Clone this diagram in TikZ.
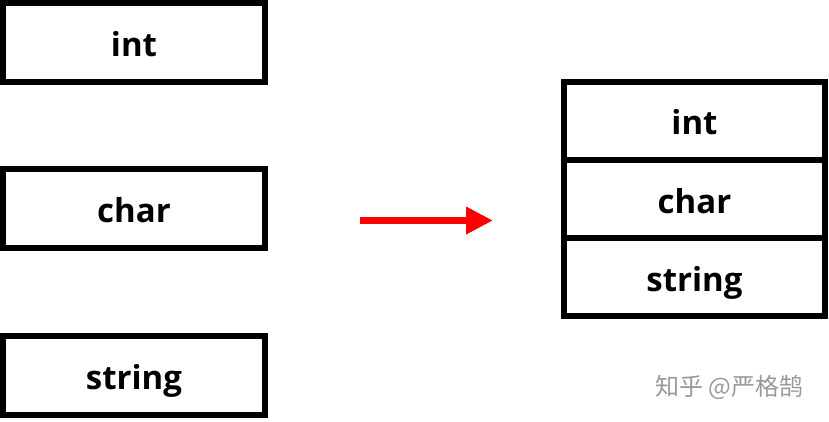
\documentclass[tikz,border=0pt]{standalone}
\usepackage{fontspec}
\setmainfont{Open Sans}
\newfontfamily\cjkfont{Noto Sans CJK SC}
\usepackage{xcolor}
\usepackage{tikz}
\usetikzlibrary{arrows.meta,positioning}

\begin{document}
\begin{tikzpicture}[
    x=1pt, y=-1pt,
    box/.style={rectangle, draw, line width=6pt, minimum width=262pt, minimum height=79pt, inner sep=0pt, text height=28pt, text depth=0pt, align=center, font=\fontsize{33}{40}\selectfont\bfseries},
    cell/.style={box, outer sep=0pt, minimum width=261pt, minimum height=78pt},
    arrow/.style={-{Triangle[length=27pt, width=26pt]}, line width=7pt, red}
]
\useasboundingbox (0, 0) rectangle (829, 422);

% separate fields
\node[box] (int) at (134, 42.5) {int};
\node[box] (char) at (134, 208.5) {char};
\node[box] (string) at (134, 375) {string};

% packed together
\node[cell] (sint) at (694.5, 121) {int};
\node[cell, below=0pt of sint] (schar) {char};
\node[cell, below=0pt of schar] (sstring) {string};

% arrow
\coordinate (from) at (360, 220.5);
\coordinate (to) at (493, 220.5);
\draw[arrow] (from) -- (to);

% watermark
\node[text=black!40, font=\fontsize{24}{28}\selectfont\cjkfont, anchor=west] (mark) at (652, 387) {知乎 @严格鹄};
\end{tikzpicture}
\end{document}
